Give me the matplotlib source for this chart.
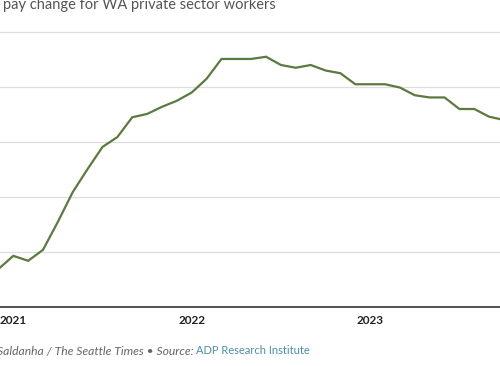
import matplotlib
matplotlib.use("Agg")
from matplotlib import pyplot as plt

# Monthly pay change (%), Dec 2020 through Oct 2023
months = list(range(-1, 34))  # 0 = Jan 2021
pay_change = [4.69, 4.93, 4.84, 5.04, 5.55, 6.09, 6.51, 6.91, 7.09, 7.45,
              7.51, 7.64, 7.75, 7.90, 8.15, 8.51, 8.51, 8.51, 8.55, 8.40,
              8.35, 8.40, 8.30, 8.25, 8.05, 8.05, 8.05, 7.99, 7.85, 7.81,
              7.81, 7.60, 7.60, 7.46, 7.40]
year_ticks = [0, 12, 24]
year_labels = ["2021", "2022", "2023"]
grid_values = [5, 6, 7, 8, 9]

title = "pay change for WA private sector workers"
credit = "Saldanha / The Seattle Times \u2022 Source: "
source = "ADP Research Institute"

LINE_COLOR = "#5b7a3e"
FONT = ["Lato", "DejaVu Sans"]

fig = plt.figure(figsize=(5, 3.66), dpi=100)
ax = fig.add_axes([0, 59 / 366, 1, 286 / 366])

ax.plot(months, pay_change, color=LINE_COLOR, linewidth=1.6,
        solid_joinstyle="miter", zorder=3)

ax.set_xlim(-0.894, 32.73)
ax.set_ylim(4, 9.2)

for v in grid_values:
    ax.axhline(v, color="#dedede", linewidth=0.9, zorder=1)
ax.axhline(4, color="#333333", linewidth=1.2, zorder=4, clip_on=False)

for s in ax.spines.values():
    s.set_visible(False)
ax.set_yticks([])
ax.set_xticks(year_ticks)
ax.set_xticklabels(year_labels, fontfamily=FONT, fontweight="bold",
                   fontsize=8.5, color="#222222")
ax.tick_params(axis="x", length=0, pad=6)

fig.text(3 / 500, 1 - 5 / 366, title, fontfamily=FONT, fontsize=10.5,
         color="#555555", ha="left", va="center")

t1 = fig.text(-3 / 500, 1 - 351 / 366, credit, fontfamily=FONT,
              fontstyle="italic", fontsize=8.7, color="#666666",
              ha="left", va="center")
fig.canvas.draw()
bb = t1.get_window_extent(renderer=fig.canvas.get_renderer())
fig.text(bb.x1 / fig.bbox.width, 1 - 351 / 366, source, fontfamily=FONT,
         fontsize=8.0, color="#4a8fa8", ha="left", va="center")

fig.savefig("out.png", dpi=100)
